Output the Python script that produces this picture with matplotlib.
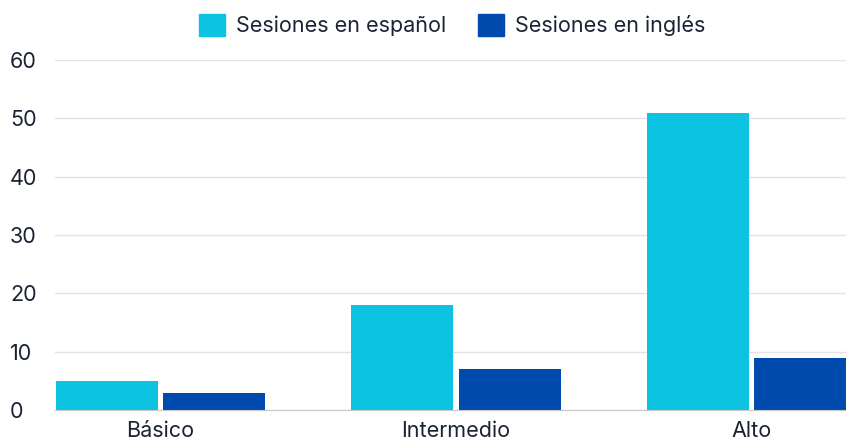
import matplotlib
matplotlib.use("Agg")
import matplotlib.pyplot as plt
from matplotlib.patches import Patch
import numpy as np

categories = ["Básico", "Intermedio", "Alto"]
series_names = ["Sesiones en español", "Sesiones en inglés"]
espanol = [5, 18, 51]
ingles = [3, 7, 9]
colors = ["#0CC3E1", "#004AAD"]
text_color = "#1B2333"

plt.rcParams['font.family'] = ['Inter', 'DejaVu Sans']

fig = plt.figure(figsize=(8.46, 4.41), dpi=100)
ax = fig.add_axes([55/846, 31/441, 1 - 55/846, 350/441])

x = np.arange(len(categories))
w = 0.345
gap = 0.01
ax.bar(x - w/2 - gap, espanol, width=w, color=colors[0], zorder=3)
ax.bar(x + w/2 + gap, ingles, width=w, color=colors[1], zorder=3)

ax.set_xlim(-0.357, (846 - 160.5) / 295.5)
ax.set_ylim(0, 60)
ax.set_yticks(range(0, 61, 10))
ax.set_xticks(x)
ax.set_xticklabels(categories)
ax.tick_params(axis='both', length=0, labelsize=15.5, colors=text_color)
ax.tick_params(axis='x', pad=8)
for lab in ax.get_yticklabels():
    lab.set_horizontalalignment('left')
ax.tick_params(axis='y', pad=45 * 72 / 100)
ax.grid(axis='y', color='#E3E3E3', linewidth=1, zorder=0)
for s in ['top', 'right', 'left']:
    ax.spines[s].set_visible(False)
ax.spines['bottom'].set_color('#C8C8C8')
ax.spines['bottom'].set_zorder(4)

handles = [Patch(color=c) for c in colors]
fig.legend(handles, series_names, loc='center', bbox_to_anchor=(452/846, 1 - 25/441),
           ncol=2, frameon=False, fontsize=15.5, handlelength=1.2, handleheight=1.2,
           columnspacing=1.5, handletextpad=0.5, labelcolor=text_color)

fig.savefig("out.png", dpi=100)
